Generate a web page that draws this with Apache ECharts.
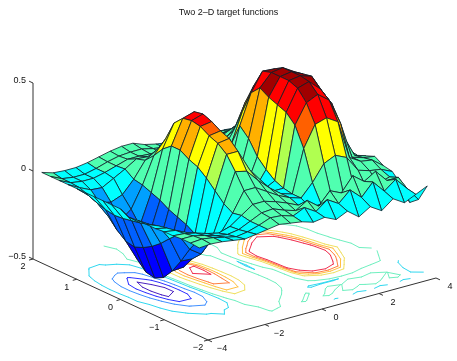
<!DOCTYPE html>
<html><head><meta charset="utf-8">
<style>html,body{margin:0;padding:0;background:#fff}#c{width:457px;height:361px}</style>
<script src="https://cdn.jsdelivr.net/npm/echarts@6/dist/echarts.min.js"></script>
</head><body><div id="c"></div>
<script>
const titleText = 'Two 2\u2013D target functions';
const xValues = [-4,-3.6,-3.2,-2.8,-2.4,-2,-1.6,-1.2,-0.8,-0.4,0,0.4,0.8,1.2,1.6,2,2.4,2.8,3.2,3.6,4];
const yValues = [-1.8,-1.6,-1.4,-1.2,-1,-0.8,-0.6,-0.4,-0.2,0,0.2,0.4,0.6,0.8,1,1.2,1.4,1.6,1.8];
const zYm18 = [.0,.005,.0,-.01,-.02,-.01,.0,.01,.0,-.01,-.03,-.02,-.05,-.02,-.07,-.03,-.07,-.02,-.06,-.03,.0];
const zYm16 = [.005,.01,.0,-.015,-.03,-.02,.0,.025,.02,.0,.03,-.01,.04,.0,.06,.0,.07,.0,.05,-.02,-.1];
const zYm14 = [.005,.005,-.01,-.03,-.04,-.03,.0,.03,.035,.01,-.01,.03,-.02,.05,.02,.1,.05,.09,.02,.02,-.14];
const zYm12 = [.0,-.005,-.02,-.04,-.055,-.035,.01,.055,.055,.035,.01,-.02,-.05,-.05,-.05,-.04,-.04,-.03,-.02,.0,-.06];
const zYm10 = [.0,-.01,-.04,-.10,-.13,-.09,.0,.11,.11,.07,.03,.0,-.02,.05,.14,.17,.14,.05,.03,.02,-.01];
const zYm08 = [-.005,-.02,-.075,-.175,-.22,-.14,.03,.195,.18,.11,.05,.0,-.02,.22,.34,.36,.32,.10,.06,.05,.0];
const zYm06 = [-.005,-.03,-.12,-.265,-.27,-.17,.08,.27,.27,.15,.07,-.01,-.01,.33,.44,.47,.42,.27,.06,.04,.03];
const zYm04 = [-.005,-.045,-.17,-.345,-.34,-.17,.13,.31,.32,.18,.08,-.025,.01,.38,.50,.52,.46,.36,.16,.03,.01];
const zYm02 = [-.01,-.06,-.21,-.405,-.365,-.14,.17,.33,.34,.19,.08,-.045,.05,.40,.52,.53,.51,.40,.25,.05,-.01];
const zY00 = [.015,-.07,-.24,-.43,-.36,-.12,.19,.36,.37,.18,.07,-.055,.10,.42,.52,.53,.50,.39,.18,.03,-.01];
const zYp02 = [.015,-.08,-.26,-.42,-.32,-.1,.22,.37,.39,.16,.06,-.045,.18,.45,.52,.53,.49,.35,.15,.02,-.015];
const zYp04 = [.015,-.085,-.25,-.37,-.26,-.07,.22,.36,.38,.13,.04,-.025,.23,.40,.505,.50,.455,.31,.105,.0,-.02];
const zYp06 = [.015,-.076,-.21,-.29,-.22,-.05,.18,.31,.29,.10,.025,.01,.10,.27,.40,.44,.40,.245,.08,.0,-.015];
const zYp08 = [.015,-.06,-.155,-.20,-.15,-.03,.12,.195,.14,.06,.01,.0,.04,.14,.28,.37,.32,.17,.045,.0,-.01];
const zYp10 = [.015,-.04,-.10,-.115,-.09,-.02,.07,.11,.07,.03,.0,.01,.03,.07,.125,.25,.215,.10,.015,.0,-.01];
const zYp12 = [.015,-.02,-.05,-.055,-.02,.015,.055,.05,.03,.015,.0,.0,.015,.04,.07,.10,.10,.05,.01,.0,-.01];
const zYp14 = [.015,-.015,-.025,-.025,-.01,.01,.03,.03,.025,.01,.0,.0,.0,.01,.03,.04,.03,.01,-.01,-.025,-.025];
const zYp16 = [.015,-.015,-.025,-.025,-.01,.01,.025,.03,.03,.015,.005,.0,.01,.015,.015,.01,-.005,-.025,-.03,-.03,-.03];
const zYp18 = [.015,-.005,-.01,-.01,.0,.015,.03,.04,.04,.015,.0,-.01,-.01,-.025,-.025,-.025,-.025,-.03,-.03,-.025,-.025];
const zRows = [zYm18,zYm16,zYm14,zYm12,zYm10,zYm08,zYm06,zYm04,zYm02,zY00,zYp02,zYp04,zYp06,zYp08,zYp10,zYp12,zYp14,zYp16,zYp18];
const xTicks = [-4,-2,0,2,4];
const yTicks = [-2,-1,0,1,2];
const zTicks = [-0.5,0,0.5];
const contourLevels = [-.37,-.28,-.18,-.045,.022,.2,.27,.32,.372];

const contourColors = ['#4a20c0','#3030ff','#4090ff','#30d8f0','#70f0c0','#f0e060','#ffc040','#ff8040','#f03050'];
const faceLimits = [-.36,-.28,-.14,-.07,.0,.16,.2,.27,.33,.37,.47,9];
const faceColors = ['#0000b8','#0000ff','#0060ff','#00a0ff','#00ffff','#50ffb0','#b0ff50','#ffff00','#ffb000','#ff6000','#ff0000','#a00000'];
const zFloor = -0.5;
// oblique view of the data box
function view(x,y,z){return [28.5*x-43.75*y, 7.75*x+20.25*y+176*(z-zFloor)];}
function faceColor(v){for(let i=0;i<faceLimits.length;i++){if(v<faceLimits[i])return faceColors[i];}return faceColors[faceColors.length-1];}
const fmt = v => String(v).replace('-','\u2212');

// far to near: high x and high y are the back of the box
const cells = [];
for(let j=yValues.length-2;j>=0;j--){for(let i=xValues.length-2;i>=0;i--){cells.push([i,j]);}}

// contour segments on the floor, marching squares over the same grid
const segs = [];
contourLevels.forEach((lv,k)=>{
  for(let j=0;j<yValues.length-1;j++){for(let i=0;i<xValues.length-1;i++){
    const c=[[xValues[i],yValues[j],zRows[j][i]],[xValues[i+1],yValues[j],zRows[j][i+1]],[xValues[i+1],yValues[j+1],zRows[j+1][i+1]],[xValues[i],yValues[j+1],zRows[j+1][i]]];
    const pts=[];
    for(let e=0;e<4;e++){const a=c[e],b=c[(e+1)%4];
      if((a[2]<lv)!==(b[2]<lv)){const t=(lv-a[2])/(b[2]-a[2]);pts.push([a[0]+t*(b[0]-a[0]),a[1]+t*(b[1]-a[1])]);}}
    if(pts.length>=2)segs.push([pts[0][0],pts[0][1],pts[1][0],pts[1][1],k]);
    if(pts.length===4)segs.push([pts[2][0],pts[2][1],pts[3][0],pts[3][1],k]);
  }}
});

const X0=xValues[0],XN=4,YN=-2,YP=2;
const axisLines=[[X0,YP,zTicks[0],X0,YP,zTicks[2]],[X0,YP,zTicks[0],X0,YN,zTicks[0]],[X0,YN,zTicks[0],XN,YN,zTicks[0]]];
xTicks.forEach(t=>axisLines.push([t,YN,zFloor,t,YN-0.09,zFloor]));
yTicks.forEach(t=>axisLines.push([X0,t,zFloor,X0-0.14,t,zFloor]));
zTicks.forEach(t=>axisLines.push([X0,YP,t,X0,YP+0.09,t]));

const labels=[];
xTicks.forEach(t=>labels.push([t,YN,zFloor,fmt(t),14,9,'center']));
yTicks.forEach(t=>labels.push([X0,t,zFloor,fmt(t),-10,8,'center']));
zTicks.forEach(t=>labels.push([X0,YP,t,fmt(t),-7,-2,'right']));

const font='9px "Liberation Sans", Arial, sans-serif';
const chart=echarts.init(document.getElementById('c'),null,{renderer:'canvas'});
chart.setOption({
  animation:false,
  backgroundColor:'#fff',
  title:{text:titleText,left:'center',top:3,textStyle:{fontSize:9,fontWeight:'normal',color:'#111',fontFamily:'"Liberation Sans", Arial, sans-serif'}},
  grid:{left:0,top:0,width:457,height:361},
  xAxis:{type:'value',min:-234.5,max:222.5,show:false},
  yAxis:{type:'value',min:-92.5,max:268.5,show:false},
  series:[
    {type:'custom',coordinateSystem:'cartesian2d',silent:true,clip:false,data:axisLines,
      renderItem:(p,api)=>{const a=api.coord(view(api.value(0),api.value(1),api.value(2)));const b=api.coord(view(api.value(3),api.value(4),api.value(5)));
        return {type:'line',shape:{x1:a[0],y1:a[1],x2:b[0],y2:b[1]},style:{stroke:'#333',lineWidth:1}};}},
    {type:'custom',coordinateSystem:'cartesian2d',silent:true,clip:false,data:segs,
      renderItem:(p,api)=>{const a=api.coord(view(api.value(0),api.value(1),zFloor));const b=api.coord(view(api.value(2),api.value(3),zFloor));
        return {type:'line',shape:{x1:a[0],y1:a[1],x2:b[0],y2:b[1]},style:{stroke:contourColors[api.value(4)],lineWidth:1,lineCap:'round'}};}},
    {type:'custom',coordinateSystem:'cartesian2d',silent:true,clip:false,data:cells,
      renderItem:(p,api)=>{const i=api.value(0),j=api.value(1);
        const idx=[[i,j],[i+1,j],[i+1,j+1],[i,j+1]];
        let sum=0;const pts=idx.map(q=>{const z=zRows[q[1]][q[0]];sum+=z;return api.coord(view(xValues[q[0]],yValues[q[1]],z));});
        return {type:'polygon',shape:{points:pts},style:{fill:faceColor(sum/4),stroke:'#10202a',lineWidth:0.8,lineJoin:'round'}};}},
    {type:'custom',coordinateSystem:'cartesian2d',silent:true,clip:false,data:labels,
      renderItem:(p,api)=>{const d=labels[p.dataIndex];const a=api.coord(view(d[0],d[1],d[2]));
        return {type:'text',x:a[0]+d[4],y:a[1]+d[5],style:{text:d[3],font:font,fill:'#111',textAlign:d[6],textVerticalAlign:'middle'}};}}
  ]
});
</script></body></html>
